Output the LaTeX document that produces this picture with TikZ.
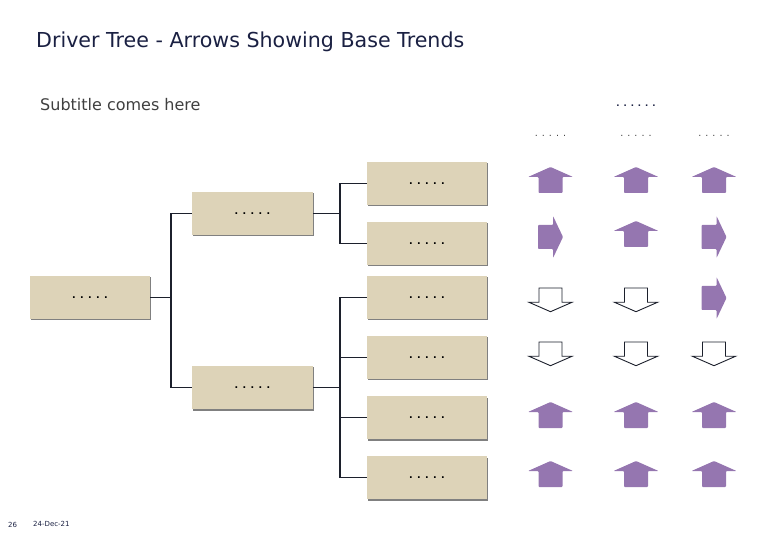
\documentclass[tikz,border=0pt]{standalone}
\usepackage{fontspec}
\setmainfont{DejaVu Sans}
\usetikzlibrary{shadows}
\definecolor{boxfill}{RGB}{221,211,184}
\definecolor{purp}{RGB}{149,118,176}
\definecolor{navy}{RGB}{26,32,66}
\definecolor{linec}{RGB}{28,32,44}
\tikzset{
  treebox/.style={rectangle, fill=boxfill, minimum width=120pt, minimum height=43pt, inner sep=0pt,
    drop shadow={shadow xshift=1.2pt, shadow yshift=-1.5pt, fill=black!50, opacity=1},
    font=\fontsize{9.5}{10}\selectfont\bfseries, text=black},
  conn/.style={draw=linec, line width=1.1pt},
  uparrow/.pic={\fill[purp, rounded corners=0.8pt] (-12,13) -- (-12,-3) -- (-22.5,-3) -- (0,-13) -- (22.5,-3) -- (12,-3) -- (12,13) -- cycle;},
  rightarrow/.pic={\fill[purp, rounded corners=0.8pt] (-12.5,-12) -- (2.5,-12) -- (2.5,-21) -- (12.5,0) -- (2.5,21) -- (2.5,12) -- (-12.5,12) -- cycle;},
  downarrow/.pic={\draw[linec, line width=0.9pt, fill=white] (-11.5,-12) -- (11.5,-12) -- (11.5,2.3) -- (21.5,2.3) -- (0,11.7) -- (-21.5,2.3) -- (-11.5,2.3) -- cycle;},
  hdr/.style={font=\fontsize{9.5}{10}\selectfont, text=black!75, inner sep=0pt, anchor=base}
}
\begin{document}
\begin{tikzpicture}[x=1pt, y=-1pt]
\useasboundingbox (0,0) rectangle (780,540);
% titles
\node[anchor=base west, inner sep=0pt, text=navy, font=\fontsize{20.6}{24}\selectfont] (title) at (36,48) {Driver Tree - Arrows Showing Base Trends};
\node[anchor=base west, inner sep=0pt, text=black!75, font=\fontsize{16}{19}\selectfont] (subtitle) at (40,110.5) {Subtitle comes here};
% column headers
\node[hdr, font=\fontsize{8.5}{10}\selectfont\bfseries, text=navy] (h0) at (636,106.5) {. . . . . .};
\node[hdr] (h1) at (550.5,136.5) {. . . . .};
\node[hdr] (h2) at (636,136.5) {. . . . .};
\node[hdr] (h3) at (714,136.5) {. . . . .};
% boxes
\node[treebox] (root) at (90,297.5) {. . . . .};
\node[treebox, minimum width=121pt] (m1) at (252.5,213.5) {. . . . .};
\node[treebox, minimum width=121pt] (m2) at (252.5,387.5) {. . . . .};
\node[treebox] (l1) at (427,183.5) {. . . . .};
\node[treebox] (l2) at (427,243.5) {. . . . .};
\node[treebox] (l3) at (427,297.5) {. . . . .};
\node[treebox] (l4) at (427,357.5) {. . . . .};
\node[treebox] (l5) at (427,417.5) {. . . . .};
\node[treebox] (l6) at (427,477.5) {. . . . .};
% connectors
\coordinate (j1) at (171,297.5);
\coordinate (j2) at (340,213.5);
\coordinate (j3) at (340,387.5);
\draw[conn] (root.east) -- (j1);
\draw[conn] (m1.west) -- (m1.west -| j1) -- (m2.west -| j1) -- (m2.west);
\draw[conn] (m1.east) -- (j2);
\draw[conn] (l1.west) -- (l1.west -| j2) -- (l2.west -| j2) -- (l2.west);
\draw[conn] (m2.east) -- (j3);
\draw[conn] (l3.west) -- (l3.west -| j3) -- (l6.west -| j3) -- (l6.west);
\draw[conn] (l4.west) -- (l4.west -| j3);
\draw[conn] (l5.west) -- (l5.west -| j3);
% arrows
\pic at (550.5,180) {uparrow};
\pic at (636,180) {uparrow};
\pic at (714,180) {uparrow};
\pic at (550.5,237) {rightarrow};
\pic at (636,234) {uparrow};
\pic at (714,237) {rightarrow};
\pic at (550.5,300) {downarrow};
\pic at (636,300) {downarrow};
\pic at (714,298) {rightarrow};
\pic at (550.5,354) {downarrow};
\pic at (636,354) {downarrow};
\pic at (714,354) {downarrow};
\pic at (550.5,415) {uparrow};
\pic at (636,415) {uparrow};
\pic at (714,415) {uparrow};
\pic at (550.5,474) {uparrow};
\pic at (636,474) {uparrow};
\pic at (714,474) {uparrow};
% footer
\node[anchor=base west, inner sep=0pt, font=\fontsize{7}{8}\selectfont, text=navy] (pg) at (8,527) {26};
\node[anchor=base west, inner sep=0pt, font=\fontsize{7}{8}\selectfont, text=navy] (date) at (33,526) {24-Dec-21};
\end{tikzpicture}
\end{document}
